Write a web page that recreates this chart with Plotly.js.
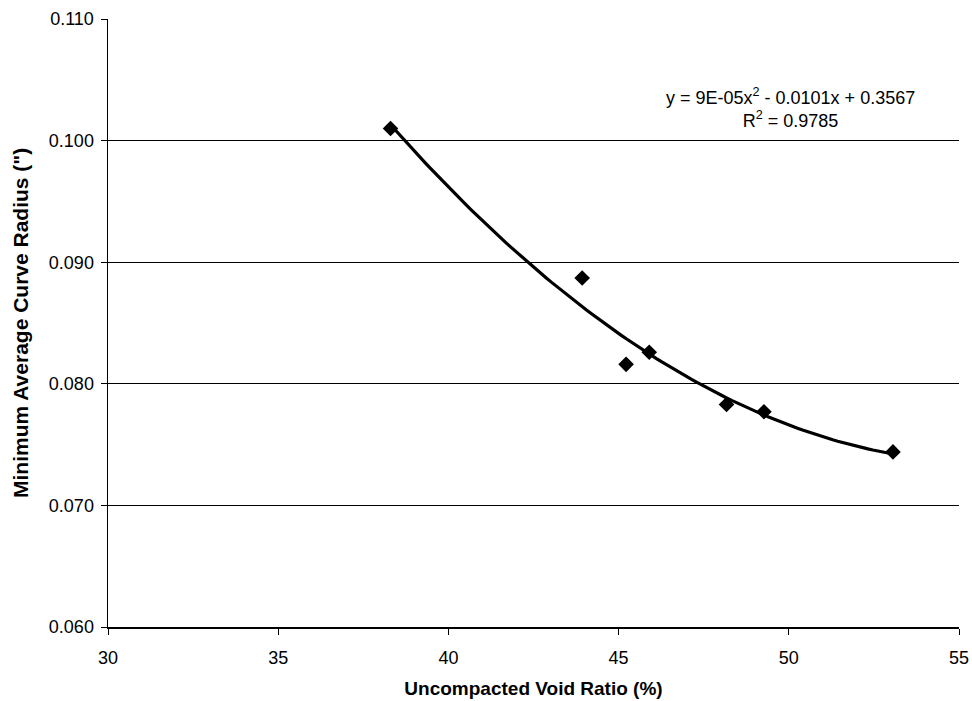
<!DOCTYPE html>
<html>
<head>
<meta charset="utf-8">
<script src="https://cdn.plot.ly/plotly-3.0.1.min.js"></script>
<style>html,body{margin:0;padding:0;background:#fff;}#chart{width:972px;height:701px;}</style>
</head>
<body>
<div id="chart"></div>
<script>
// Data
var voidRatio = [38.3, 43.93, 45.22, 45.9, 48.17, 49.27, 53.06];
var curveRadius = [0.1010, 0.0887, 0.0816, 0.0826, 0.0783, 0.0777, 0.0744];
var xTicks = [30, 35, 40, 45, 50, 55];
var yTicks = [0.060, 0.070, 0.080, 0.090, 0.100, 0.110];
var xTitle = 'Uncompacted Void Ratio (%)';
var yTitle = 'Minimum Average Curve Radius (")';
var eqText = 'y = 9E-05x<sup>2</sup> - 0.0101x + 0.3567';
var r2Text = 'R<sup>2</sup> = 0.9785';

// Least-squares quadratic fit (trendline) computed from the data
function quadFit(xs, ys) {
  var n = xs.length, S = [0,0,0,0,0], T = [0,0,0];
  for (var i = 0; i < n; i++) {
    var p = 1;
    for (var k = 0; k < 5; k++) { S[k] += p; if (k < 3) T[k] += p * ys[i]; p *= xs[i]; }
  }
  var A = [[S[0],S[1],S[2],T[0]],[S[1],S[2],S[3],T[1]],[S[2],S[3],S[4],T[2]]];
  for (var c = 0; c < 3; c++) {
    for (var r = c + 1; r < 3; r++) {
      var f = A[r][c] / A[c][c];
      for (var j = c; j < 4; j++) A[r][j] -= f * A[c][j];
    }
  }
  var sol = [0,0,0];
  for (var r2 = 2; r2 >= 0; r2--) {
    var s = A[r2][3];
    for (var j2 = r2 + 1; j2 < 3; j2++) s -= A[r2][j2] * sol[j2];
    sol[r2] = s / A[r2][r2];
  }
  return sol; // a0 + a1 x + a2 x^2
}
var coef = quadFit(voidRatio, curveRadius);
var xmin = Math.min.apply(null, voidRatio), xmax = Math.max.apply(null, voidRatio);
var fitX = [], fitY = [];
for (var i = 0; i <= 100; i++) {
  var x = xmin + (xmax - xmin) * i / 100;
  fitX.push(x);
  fitY.push(coef[0] + coef[1] * x + coef[2] * x * x);
}

var fam = '"Liberation Sans", Arial, sans-serif';

var data = [
  {x: fitX, y: fitY, mode: 'lines', type: 'scatter',
   line: {color: '#000', width: 3.2}, hoverinfo: 'skip'},
  {x: voidRatio, y: curveRadius, mode: 'markers', type: 'scatter',
   marker: {symbol: 'diamond', size: 12, color: '#000'}},
  // invisible trace to activate the overlay axis carrying the inside tick marks
  {x: [30], y: [0.06], yaxis: 'y2', mode: 'markers', marker: {opacity: 0}, hoverinfo: 'skip'}
];

var layout = {
  width: 972, height: 701,
  margin: {l: 108, r: 13, t: 19, b: 74},
  paper_bgcolor: '#fff', plot_bgcolor: '#fff',
  showlegend: false,
  font: {family: fam, color: '#000'},
  xaxis: {
    range: [30, 55], tickvals: xTicks, ticktext: xTicks.map(String),
    showgrid: false, zeroline: false,
    showline: true, linecolor: '#000', linewidth: 1.5,
    ticks: 'outside', ticklen: 6, tickcolor: '#000', tickwidth: 1,
    ticklabelstandoff: 8,
    tickfont: {family: fam, size: 18, color: '#000'},
    title: {text: xTitle, font: {family: fam, size: 19, color: '#000', weight: 'bold'}, standoff: 14}
  },
  yaxis: {
    range: [0.060, 0.110], tickvals: yTicks, ticktext: yTicks.map(function(v){return v.toFixed(3);}),
    showgrid: true, gridcolor: '#000', gridwidth: 1.2, zeroline: false,
    showline: true, linecolor: '#000', linewidth: 1.5,
    ticks: 'outside', ticklen: 6, tickcolor: '#000', tickwidth: 1,
    ticklabelstandoff: 3,
    tickfont: {family: fam, size: 18, color: '#000'}
  },
  yaxis2: {
    overlaying: 'y', side: 'left', range: [0.060, 0.110], tickvals: yTicks,
    showticklabels: false, showgrid: false, zeroline: false, showline: false,
    ticks: 'inside', ticklen: 5, tickcolor: '#000', tickwidth: 1
  },
  annotations: [
    {xref: 'paper', yref: 'paper', x: 0.802, y: 0.854, xanchor: 'center', yanchor: 'middle',
     text: eqText + '<br>' + r2Text, showarrow: false, align: 'center',
     font: {family: fam, size: 18, color: '#000'}},
    {xref: 'paper', yref: 'paper', x: 0, y: 0.5, xshift: -88, xanchor: 'center', yanchor: 'middle',
     textangle: -90, text: yTitle, showarrow: false,
     font: {family: fam, size: 21, color: '#000', weight: 'bold'}}
  ]
};

Plotly.newPlot('chart', data, layout, {displayModeBar: false, staticPlot: true});
</script>
</body>
</html>
